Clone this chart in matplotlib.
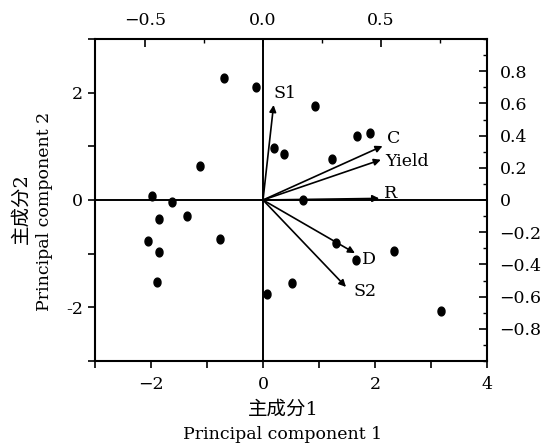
import matplotlib
matplotlib.use("Agg")
import matplotlib.pyplot as plt
import numpy as np
from matplotlib.path import Path
from matplotlib.ticker import MultipleLocator, FixedLocator

plt.rcParams['font.family'] = ['DejaVu Serif', 'Noto Sans CJK SC']

# scores (bottom / left axes)
score_x = [-0.70, -0.12, 0.93, 1.67, 1.91, 0.20, 0.38, 1.24, -1.12, -1.99, -1.63, 0.72,
           -1.85, -1.35, -2.05, -1.85, -0.76, -1.90, 1.30, 1.66, 2.34, 0.52, 0.07, 3.17]
score_y = [2.27, 2.11, 1.75, 1.19, 1.24, 0.96, 0.86, 0.77, 0.63, 0.08, -0.03, 0.0,
           -0.35, -0.30, -0.77, -0.96, -0.72, -1.52, -0.80, -1.12, -0.95, -1.55, -1.76, -2.06]

# loadings (top / right axes)
var_names = ['S1', 'C', 'Yield', 'R', 'D', 'S2']
load_x = [0.045, 0.507, 0.50, 0.493, 0.39, 0.352]
load_y = [0.59, 0.335, 0.25, 0.01, -0.33, -0.54]
label_dx = [0.0, 0.02, 0.02, 0.02, 0.03, 0.03]
label_dy = [0.07, 0.05, -0.01, 0.03, -0.04, -0.03]

fs = 12.5
fig = plt.figure(figsize=(5.41, 4.43), dpi=100)
pos = [95 / 541, 1 - 361 / 443, 392 / 541, 322 / 443]
ax = fig.add_axes(pos)

# slightly tall oval dot
t = np.linspace(0, 2 * np.pi, 40)
oval = Path(np.column_stack([0.8 * np.cos(t), np.sin(t)]))

ax.scatter(score_x, score_y, marker=oval, s=40, color='black', zorder=3)
ax.axhline(0, color='black', lw=1.4)
ax.axvline(0, color='black', lw=1.4)
ax.set_xlim(-3, 4)
ax.set_ylim(-3, 3)

ax.xaxis.set_major_locator(FixedLocator([-2, 0, 2, 4]))
ax.xaxis.set_minor_locator(FixedLocator([-3, -1, 1, 3]))
ax.xaxis.set_ticklabels(['\u22122', '0', '2', '4'])
ax.yaxis.set_major_locator(FixedLocator([-2, 0, 2]))
ax.yaxis.set_minor_locator(FixedLocator([-3, -1, 1, 3]))
ax.yaxis.set_ticklabels(['-2', '0', '2'])
ax.tick_params(which='both', direction='out', length=5, width=1.2, labelsize=fs,
               top=False, right=False)
ax.tick_params(axis='x', pad=6)
for s in ax.spines.values():
    s.set_linewidth(1.5)

ax2 = fig.add_axes(pos, frameon=False)
ax2.set_xlim(-3 / 4.21, 4 / 4.21)
ax2.set_ylim(-1, 1)
ax2.xaxis.tick_top()
ax2.yaxis.tick_right()
ax2.xaxis.set_major_locator(FixedLocator([-0.5, 0.0, 0.5]))
ax2.xaxis.set_minor_locator(FixedLocator([-0.75, -0.25, 0.25, 0.75]))
ax2.xaxis.set_ticklabels(['\u22120.5', '0.0', '0.5'])
ax2.yaxis.set_major_locator(FixedLocator([-0.8, -0.6, -0.4, -0.2, 0, 0.2, 0.4, 0.6, 0.8]))
ax2.yaxis.set_minor_locator(MultipleLocator(0.1))
ax2.yaxis.set_major_formatter(lambda v, p: '0' if abs(v) < 1e-9 else f'{v:.1f}'.replace('-', '\u2212'))
ax2.tick_params(which='major', direction='in', length=6, width=1.2, labelsize=fs)
ax2.tick_params(which='minor', direction='in', length=3, width=1.0)
ax2.tick_params(axis='y', pad=9)
ax2.tick_params(axis='x', pad=7)

for name, lx, ly, dx, dy in zip(var_names, load_x, load_y, label_dx, label_dy):
    ax2.annotate('', xy=(lx, ly), xytext=(0, 0),
                 arrowprops=dict(arrowstyle='-|>', color='black', lw=1.2,
                                 mutation_scale=10, shrinkA=0, shrinkB=0))
    ax2.text(lx + dx, ly + dy, name, fontsize=fs, ha='left', va='center')

fig.text(0.523, 0.074, '主成分1', fontsize=14, ha='center', va='center')
fig.text(0.523, 0.020, 'Principal component 1', fontsize=fs, ha='center', va='center')
fig.text(0.040, 0.530, '主成分2', fontsize=14, ha='center', va='center', rotation=90)
fig.text(0.083, 0.522, 'Principal component 2', fontsize=fs, ha='center', va='center', rotation=90)

fig.savefig('out.png', dpi=100)
